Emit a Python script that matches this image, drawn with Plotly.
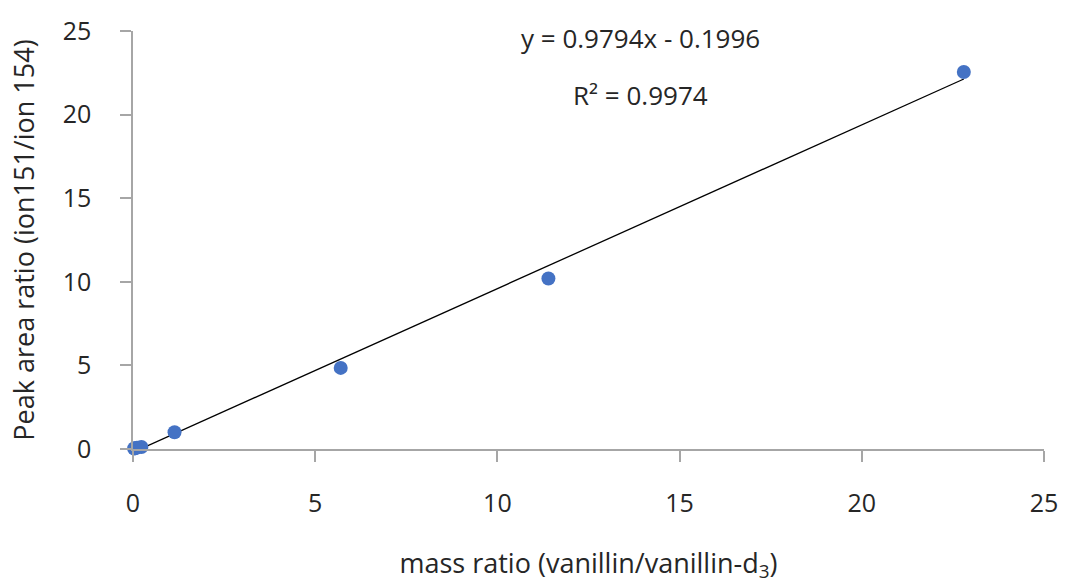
import plotly.graph_objects as go

# Data
mass_ratio = [0.03, 0.06, 0.11, 0.23, 1.14, 5.70, 11.40, 22.80]
peak_area_ratio = [0.03, 0.05, 0.08, 0.12, 1.00, 4.85, 10.20, 22.55]

# Linear trendline from the chart
slope = 0.9794
intercept = -0.1996
r_squared = 0.9974

x_ticks = [0, 5, 10, 15, 20, 25]
y_ticks = [0, 5, 10, 15, 20, 25]

x_line = [min(mass_ratio), max(mass_ratio)]
y_line = [slope * v + intercept for v in x_line]

FONT = "Open Sans"
AXIS_COLOR = "#a6a6a6"
TXT = "#262626"

fig = go.Figure()
fig.add_trace(go.Scatter(
    x=x_line, y=y_line, mode="lines",
    line=dict(color="black", width=1.3),
    showlegend=False, hoverinfo="skip",
))
fig.add_trace(go.Scatter(
    x=mass_ratio, y=peak_area_ratio, mode="markers",
    marker=dict(color="#4472C4", size=14),
    cliponaxis=False, showlegend=False,
))

fig.update_layout(
    width=1065, height=588,
    margin=dict(l=133, r=21, t=31, b=139, autoexpand=False),
    plot_bgcolor="white", paper_bgcolor="white",
    font=dict(family=FONT, size=24, color=TXT),
    xaxis=dict(
        range=[0, 25], tickvals=x_ticks, showgrid=False, zeroline=False,
        showline=True, linecolor=AXIS_COLOR, linewidth=1.5,
        ticks="outside", ticklen=11, tickcolor=AXIS_COLOR, tickwidth=1.5,
        ticklabelstandoff=20,
        tickfont=dict(family=FONT, size=25, color=TXT),
        title=dict(text="mass ratio (vanillin/vanillin-d<sub>3</sub>)",
                   font=dict(family=FONT, size=27, color=TXT), standoff=36),
        automargin=False,
    ),
    yaxis=dict(
        range=[0, 25], tickvals=y_ticks, showgrid=False, zeroline=False,
        showline=True, linecolor=AXIS_COLOR, linewidth=1.5,
        ticks="outside", ticklen=11, tickcolor=AXIS_COLOR, tickwidth=1.5,
        ticklabelstandoff=24,
        tickfont=dict(family=FONT, size=25, color=TXT),
        title=dict(text="Peak area ratio (ion151/ion 154)",
                   font=dict(family=FONT, size=27, color=TXT), standoff=20),
        automargin=False,
    ),
    annotations=[
        dict(text=f"y = {slope}x - {abs(intercept)}", x=640, y=38, xref="paper", yref="paper",
             xanchor="center", yanchor="middle",
             showarrow=False, font=dict(family=FONT, size=26, color=TXT)),
        dict(text=f"R² = {r_squared}", x=640, y=95, xref="paper", yref="paper",
             xanchor="center", yanchor="middle",
             showarrow=False, font=dict(family=FONT, size=26, color=TXT)),
    ],
)

# Convert annotation pixel positions into paper coordinates
pw = 1065 - 133 - 21
ph = 588 - 31 - 139
for ann in fig.layout.annotations:
    ann.x = (ann.x - 133) / pw
    ann.y = (588 - 139 - ann.y) / ph

fig.write_html("out.html")
